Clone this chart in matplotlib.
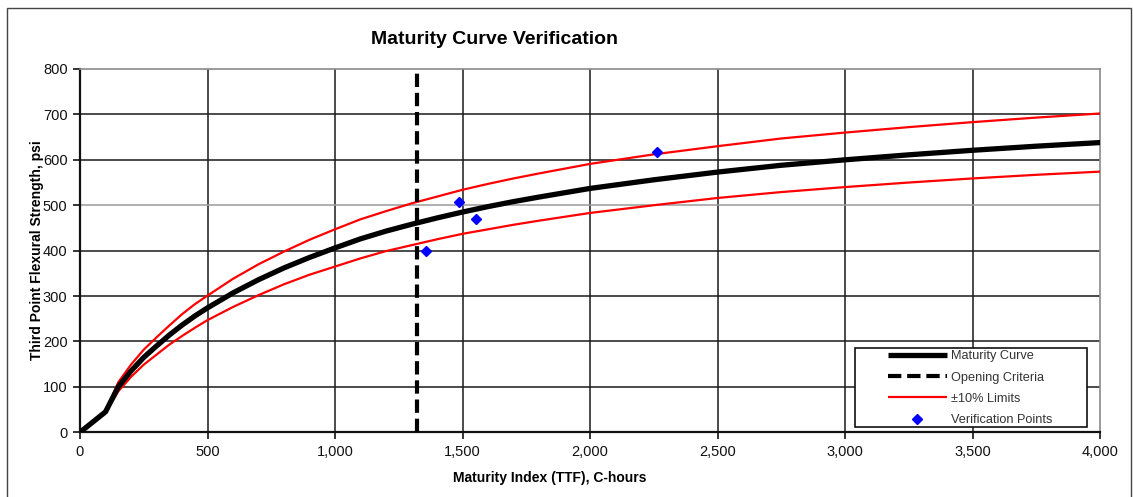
import matplotlib
matplotlib.use("Agg")
import matplotlib.pyplot as plt
from matplotlib.patches import Rectangle
from matplotlib.lines import Line2D
from matplotlib.ticker import FuncFormatter

plt.rcParams['font.family'] = ['Liberation Sans', 'DejaVu Sans']

# Maturity index (C-hours) and flexural strength (psi)
maturity = [0, 100, 150, 200, 250, 300, 350, 400, 450, 500, 600, 700, 800, 900, 1000,
            1100, 1200, 1300, 1400, 1500, 1600, 1700, 1800, 2000, 2250, 2500, 2750,
            3000, 3250, 3500, 3750, 4000]
strength = [0, 45, 100, 135, 165, 190, 214, 236, 256, 274, 307, 336, 362, 385, 406,
            426, 443, 458, 472, 485, 497, 508, 518, 537, 556, 573, 588,
            600, 611, 621, 630, 638]
upper_limit = [0, 47, 110, 149, 182, 209, 235, 260, 282, 301, 338, 370, 398, 424, 447,
               469, 487, 504, 519, 534, 547, 559, 570, 591, 612, 630, 647,
               660, 672, 683, 693, 702]
lower_limit = [0, 43, 90, 122, 149, 171, 193, 212, 230, 247, 276, 302, 326, 347, 365,
               383, 399, 412, 425, 437, 447, 457, 466, 483, 500, 516, 529,
               540, 550, 559, 567, 574]

opening_criteria = 1320

verif_x = [1356, 1487, 1551, 2262]
verif_y = [400, 508, 470, 618]

x_ticks = [0, 500, 1000, 1500, 2000, 2500, 3000, 3500, 4000]
y_ticks = [0, 100, 200, 300, 400, 500, 600, 700, 800]

W, H = 1133, 497
fig = plt.figure(figsize=(W / 100, H / 100), dpi=100)
ax = fig.add_axes([80 / W, 1 - 432.3 / H, 1020 / W, 363.3 / H])

ax.set_xlim(0, 4000)
ax.set_ylim(0, 800)
ax.set_xticks(x_ticks)
ax.set_yticks(y_ticks)
ax.xaxis.set_major_formatter(FuncFormatter(lambda v, p: f"{int(v):,}"))

# grid
for xv in x_ticks[1:-1]:
    ax.axvline(xv, color='#1a1a1a', lw=1.1, zorder=1)
for yv in y_ticks[1:-1]:
    c = '#9a9a9a' if yv == 500 else '#1a1a1a'
    ax.axhline(yv, color=c, lw=1.1, zorder=1)

ax.plot(maturity, upper_limit, color='#ff0000', lw=1.6, zorder=3)
ax.plot(maturity, lower_limit, color='#ff0000', lw=1.6, zorder=3)
ax.plot(maturity, strength, color='black', lw=3.8, zorder=4, solid_joinstyle='round')
ax.axvline(opening_criteria, color='black', lw=3.0, linestyle=(0, (3.2, 1.4)), zorder=5)
ax.plot(verif_x, verif_y, linestyle='none', marker='D', markersize=5.5,
        color='#0000ff', zorder=6)

for s in ['left', 'bottom']:
    ax.spines[s].set_linewidth(1.6)
    ax.spines[s].set_color('#111111')
ax.spines['top'].set_color('#8a8a8a')
ax.spines['top'].set_linewidth(1.2)
ax.spines['right'].set_color('#8a8a8a')
ax.spines['right'].set_linewidth(1.2)

ax.tick_params(axis='both', direction='out', length=5, width=1.2,
               labelsize=10.5, colors='#111111', pad=4)

fig.text(495 / W, 1 - 40 / H, 'Maturity Curve Verification', ha='center', va='center',
         fontsize=14, fontweight='bold')
fig.text(550 / W, 1 - 478 / H, 'Maturity Index (TTF), C-hours', ha='center', va='center',
         fontsize=10, fontweight='bold')
fig.text(37 / W, 1 - 250 / H, 'Third Point Flexural Strength, psi', ha='center', va='center',
         rotation=90, fontsize=10, fontweight='bold')

# legend
handles = [
    Line2D([], [], color='black', lw=3.8, solid_capstyle='butt'),
    Line2D([], [], color='black', lw=3.0, linestyle=(0, (3.2, 1.4)), dash_capstyle='butt'),
    Line2D([], [], color='#ff0000', lw=1.6, solid_capstyle='butt'),
    Line2D([], [], color='#0000ff', marker='D', markersize=5.5, linestyle='none'),
]
labels = ['Maturity Curve', 'Opening Criteria', '\u00b110% Limits', 'Verification Points']
fig.patches.append(Rectangle((855 / W, 1 - 427 / H), (1087 - 855) / W, (427 - 348) / H,
                             transform=fig.transFigure, facecolor='white',
                             edgecolor='#111111', lw=1.2, zorder=10))
leg = fig.legend(handles, labels, loc='upper left', bbox_to_anchor=(888 / W, 1 - 350.5 / H),
                 frameon=False, borderpad=0, borderaxespad=0, fontsize=9.2,
                 handlelength=4.6, handletextpad=0.3, labelspacing=0.72)
leg.set_zorder(11)
for t in leg.get_texts():
    t.set_color('#333333')

# outer frame
fig.patches.append(Rectangle((7 / W, -0.02), (1131 - 7) / W, 1.02 - 8 / H,
                             transform=fig.transFigure, facecolor='none',
                             edgecolor='#444444', lw=1.0))

fig.savefig('out.png', dpi=100)
